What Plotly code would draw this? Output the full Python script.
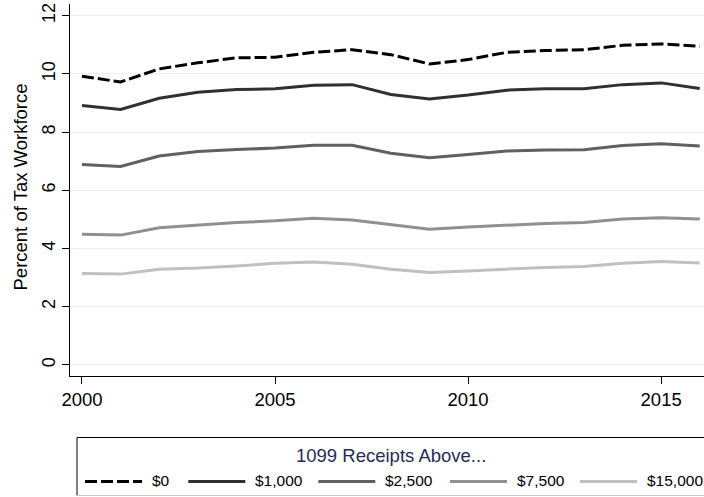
import plotly.graph_objects as go

years = list(range(2000, 2017))
s0 = [9.92, 9.72, 10.17, 10.38, 10.55, 10.57, 10.74, 10.83, 10.66, 10.34, 10.49, 10.74, 10.80, 10.83, 10.98, 11.03, 10.95]
s1000 = [8.91, 8.78, 9.16, 9.37, 9.46, 9.49, 9.61, 9.63, 9.29, 9.14, 9.27, 9.44, 9.49, 9.49, 9.63, 9.69, 9.50]
s2500 = [6.89, 6.82, 7.18, 7.33, 7.40, 7.45, 7.55, 7.55, 7.27, 7.12, 7.23, 7.35, 7.38, 7.39, 7.54, 7.60, 7.52]
s7500 = [4.49, 4.46, 4.71, 4.80, 4.89, 4.95, 5.04, 4.98, 4.83, 4.66, 4.74, 4.81, 4.86, 4.89, 5.01, 5.06, 5.01]
s15000 = [3.14, 3.12, 3.29, 3.33, 3.40, 3.49, 3.54, 3.46, 3.29, 3.18, 3.23, 3.29, 3.35, 3.38, 3.49, 3.55, 3.50]

series_names = ["$0", "$1,000", "$2,500", "$7,500", "$15,000"]
series_vals = [s0, s1000, s2500, s7500, s15000]
series_colors = ["#000000", "#303030", "#606060", "#909090", "#c0c0c0"]
series_dash = ["12px,4px", "solid", "solid", "solid", "solid"]

legend_title = "1099 Receipts Above..."
y_title = "Percent of Tax Workforce"
x_ticks = [2000, 2005, 2010, 2015]
y_ticks = [0, 2, 4, 6, 8, 10, 12]

W, H = 704, 497
L, R, T, B = 70, 704, 4, 376

def px(x):
    return (x - L) / (R - L)

def py(y):
    return (B - y) / (B - T)

FONT = "Liberation Sans, Arial, Helvetica, sans-serif"

fig = go.Figure()
for name, vals, col, dash in zip(series_names, series_vals, series_colors, series_dash):
    fig.add_trace(go.Scatter(x=years, y=vals, mode="lines", name=name,
                             line=dict(color=col, width=3, dash=dash),
                             showlegend=False, hoverinfo="x+y"))

# custom legend (box continues past the right edge of the picture)
sample_starts = [85, 188.3, 318.3, 450, 580]
sample_len = 57
leg_y = 481.5
box_l, box_t, box_b, box_r = 77, 437.5, 495.5, 760
shapes = [
    dict(type="line", xref="paper", yref="paper", x0=px(box_l), x1=px(box_r),
         y0=py(box_t), y1=py(box_t), line=dict(color="#000000", width=1)),
    dict(type="line", xref="paper", yref="paper", x0=px(box_l), x1=px(box_l),
         y0=py(box_t), y1=py(box_b), line=dict(color="#000000", width=1)),
    dict(type="line", xref="paper", yref="paper", x0=px(box_l), x1=px(box_r),
         y0=py(box_b), y1=py(box_b), line=dict(color="#c8c8c8", width=1)),
]
annotations = [
    dict(text=legend_title, xref="paper", yref="paper",
         x=px(391), y=py(455), xanchor="center", yanchor="middle",
         showarrow=False, font=dict(family=FONT, size=18.5, color="#1f2d56")),
    dict(text=y_title, xref="paper", yref="paper", textangle=-90,
         x=px(20), y=py(187.5), xanchor="center", yanchor="middle",
         showarrow=False, font=dict(family=FONT, size=18.5, color="#000000")),
]
for name, col, dash, s in zip(series_names, series_colors, series_dash, sample_starts):
    shapes.append(dict(type="line", xref="paper", yref="paper",
                       x0=px(s), x1=px(s + sample_len), y0=py(leg_y), y1=py(leg_y),
                       line=dict(color=col, width=3, dash=dash)))
    annotations.append(dict(text=name, xref="paper", yref="paper",
                            x=px(s + sample_len + 8), y=py(480.5),
                            xanchor="left", yanchor="middle", showarrow=False,
                            font=dict(family=FONT, size=15.5, color="#000000")))

fig.update_layout(
    width=W, height=H,
    margin=dict(l=L, r=W - R, t=T, b=H - B, pad=0, autoexpand=False),
    paper_bgcolor="white", plot_bgcolor="white",
    font=dict(family=FONT, size=18, color="#000000"),
    shapes=shapes, annotations=annotations,
    showlegend=False,
)
fig.update_xaxes(range=[1999.69, 2016.11], tickvals=x_ticks, ticks="outside", ticklen=7,
                 tickcolor="#000000", showline=True, linecolor="#000000", linewidth=1,
                 showgrid=False, zeroline=False, tickfont=dict(size=18.5), automargin=False)
fig.update_yaxes(range=[-0.38, 12.40], tickvals=y_ticks, ticks="outside", ticklen=7,
                 tickcolor="#000000", showline=True, linecolor="#000000", linewidth=1,
                 showgrid=True, gridcolor="#e8f0f2", gridwidth=1, zeroline=False,
                 tickangle=-90, tickfont=dict(size=18), automargin=False)

fig.write_html("out.html", config={"displayModeBar": False},
               post_script="document.body.style.margin='0px';document.body.style.overflow='hidden';")
